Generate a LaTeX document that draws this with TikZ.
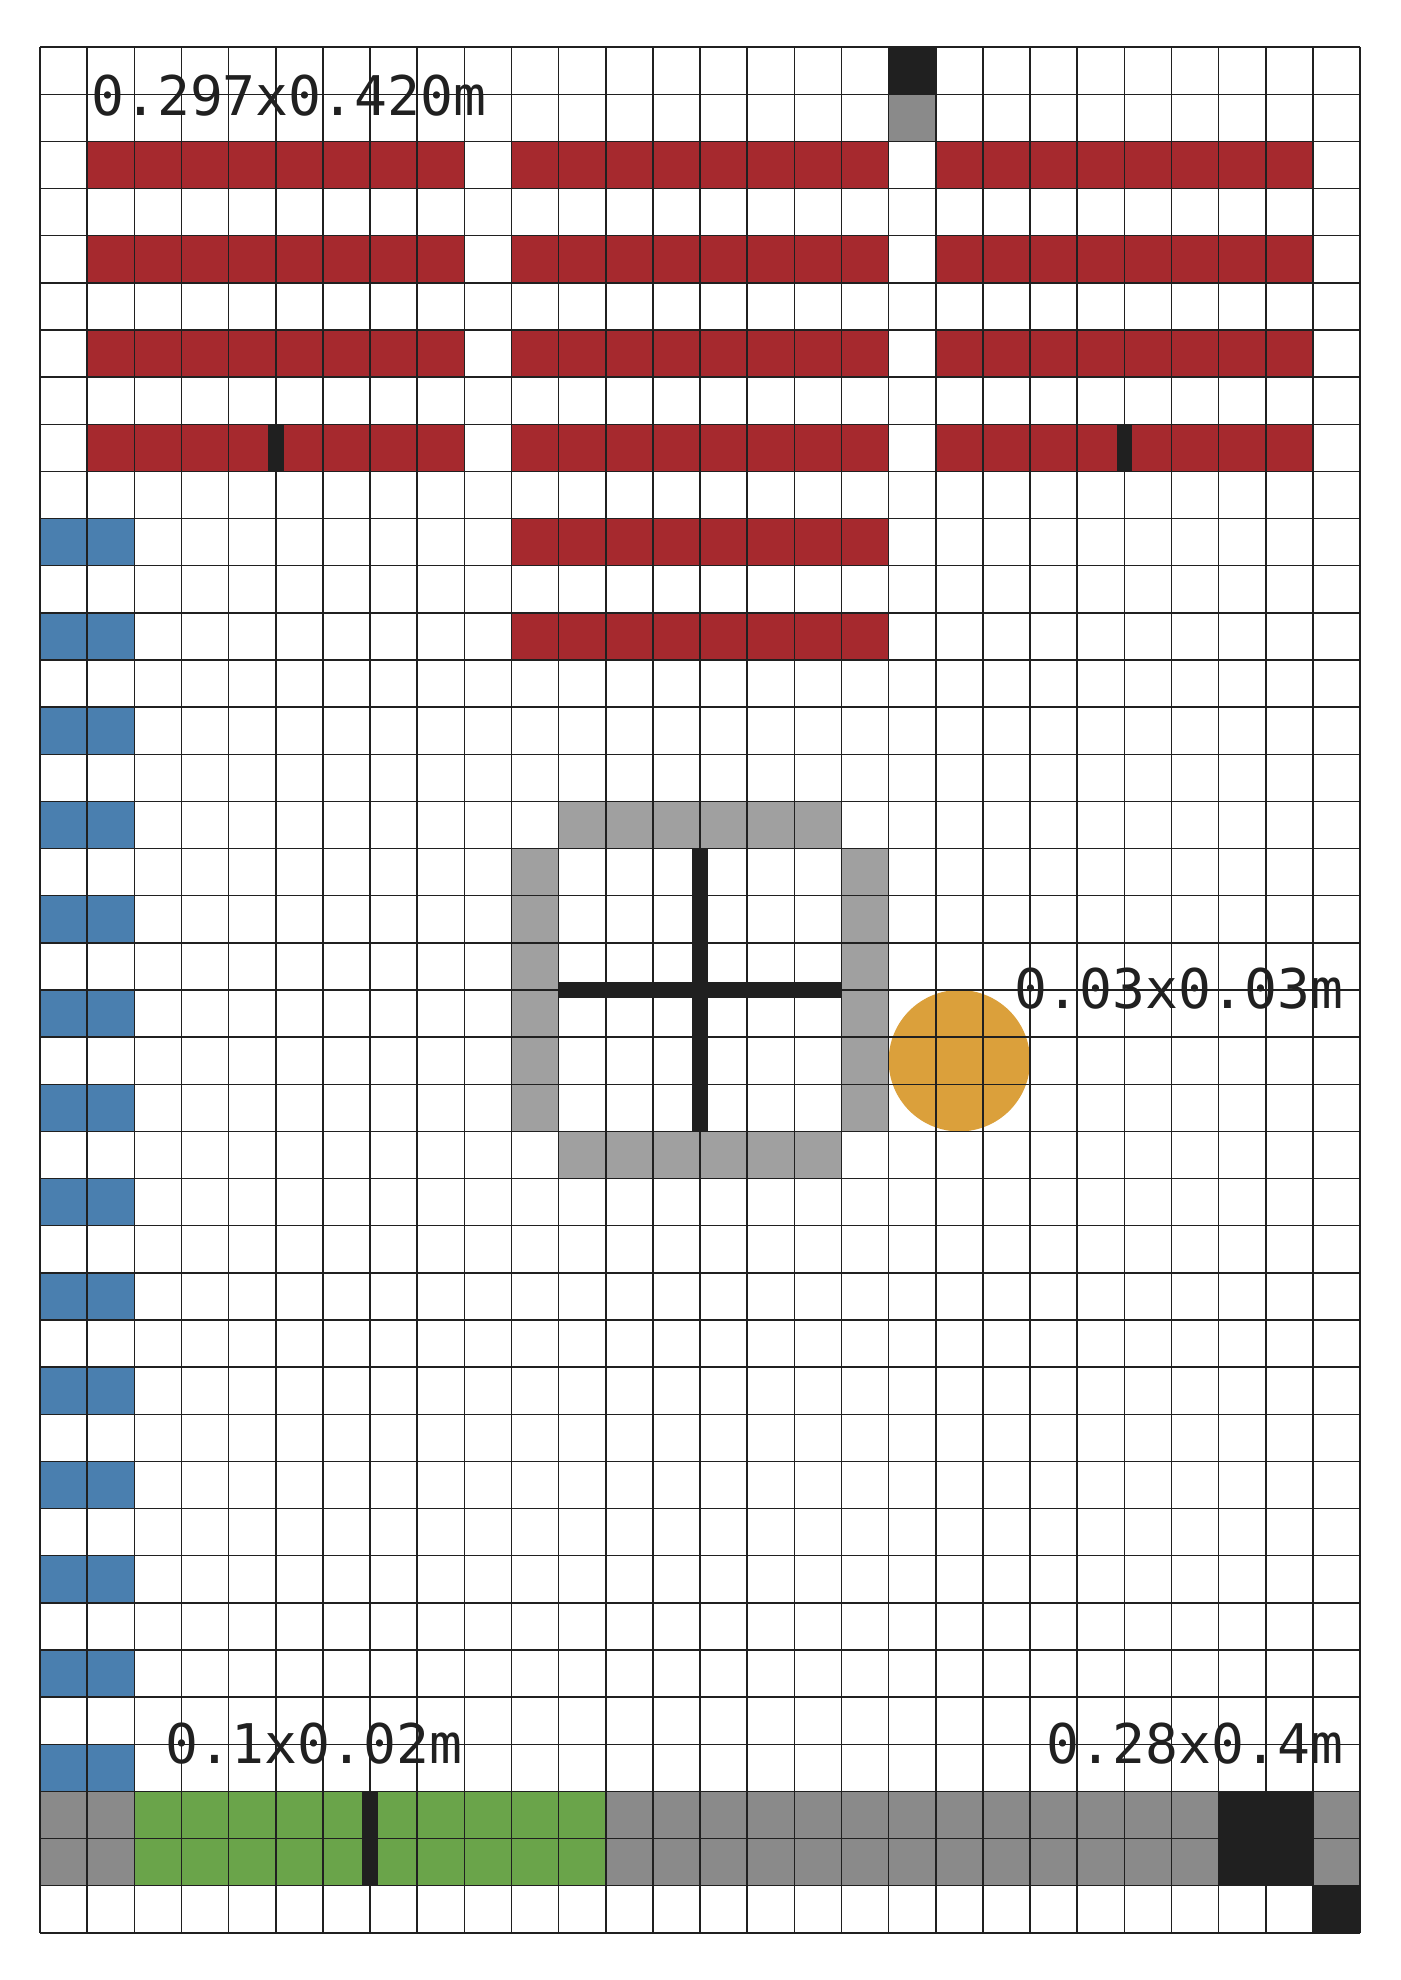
\documentclass[tikz,border=0pt]{standalone}
\usepackage{fontspec}
\setmonofont{DejaVu Sans Mono}
\definecolor{barred}{HTML}{A6292E}
\definecolor{stripblue}{HTML}{4A7FAF}
\definecolor{darkgrey}{HTML}{8A8A8A}
\definecolor{framegrey}{HTML}{A0A0A0}
\definecolor{dotorange}{HTML}{DBA03B}
\definecolor{padgreen}{HTML}{6AA44A}
\definecolor{inkblack}{HTML}{202020}
\tikzset{
  gridline/.style={draw=inkblack, line width=0.9pt},
  slotbar/.style={fill=inkblack},
  crossbar/.style={draw=inkblack, line width=0.34cm},
  sizelabel/.style={font=\ttfamily\fontsize{33}{33}\selectfont,
    text=inkblack, inner sep=0pt},
}

\begin{document}
\begin{tikzpicture}[x=1cm, y=-1cm]
  \useasboundingbox (-0.85,-1) rectangle (28.85,41);
  \fill[white] (-0.85,-1) rectangle (28.85,41);

  % red bars, three blocks
  \foreach \r in {2,4,6,8}
    \foreach \c in {1,10,19}
      \fill[barred] (\c,\r) rectangle ++(8,1);
  \foreach \r in {10,12}
    \fill[barred] (10,\r) rectangle ++(8,1);

  % blue strip on the left
  \foreach \r in {10,12,...,36}
    \fill[stripblue] (0,\r) rectangle ++(2,1);

  % top markers
  \fill[inkblack] (18,0) rectangle ++(1,1);
  \fill[darkgrey] (18,1) rectangle ++(1,1);

  % grey frame
  \fill[framegrey] (11,16) rectangle (17,17);
  \fill[framegrey] (11,23) rectangle (17,24);
  \fill[framegrey] (10,17) rectangle (11,23);
  \fill[framegrey] (17,17) rectangle (18,23);

  % round dot
  \fill[dotorange] (19.5,21.5) circle (1.5);

  % bottom strip
  \fill[darkgrey] (0,37) rectangle (28,39);
  \fill[padgreen] (2,37) rectangle (12,39);
  \fill[inkblack] (25,37) rectangle (27,39);
  \fill[inkblack] (27,39) rectangle (28,40);

  % grid
  \draw[gridline] (0,0) grid (28,40);

  % slots and cross
  \foreach \c in {5,23}
    \fill[slotbar] (\c-0.165,8) rectangle (\c+0.165,9);
  \fill[slotbar] (7-0.17,37) rectangle (7+0.17,39);
  \draw[crossbar] (14,17) -- (14,23);
  \draw[crossbar] (11,20) -- (17,20);

  % size labels
  \node[sizelabel, anchor=base west] (pagesize) at (1.08,1.44) {0.297x0.420m};
  \node[sizelabel, anchor=base east] (dotsize) at (27.65,20.39) {0.03x0.03m};
  \node[sizelabel, anchor=base west] (padsize) at (2.66,36.4) {0.1x0.02m};
  \node[sizelabel, anchor=base east] (gridsize) at (27.65,36.4) {0.28x0.4m};
\end{tikzpicture}
\end{document}
